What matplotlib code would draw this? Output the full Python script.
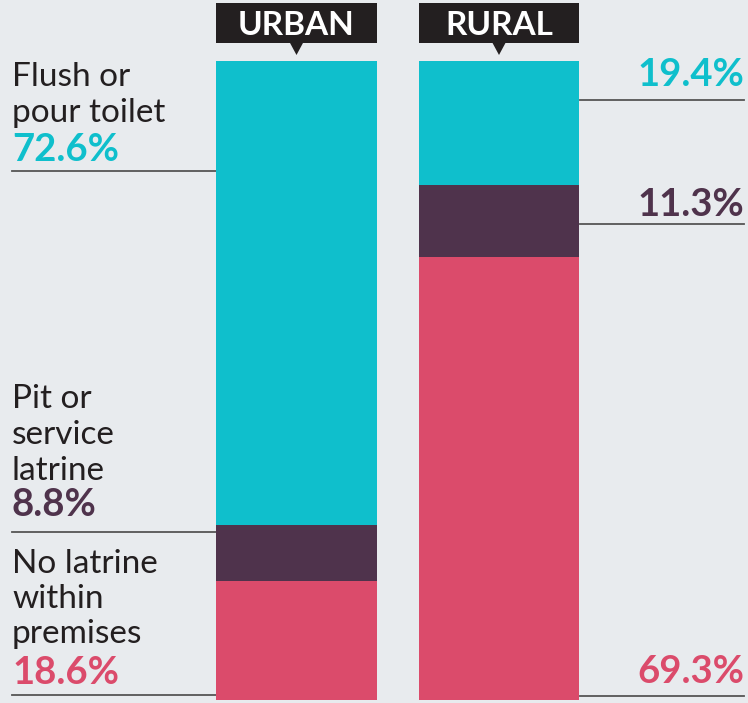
import matplotlib
matplotlib.use("Agg")
import matplotlib.pyplot as plt
from matplotlib.patches import Rectangle, Polygon

# sanitation shares (%), stacked bottom to top
areas = ["URBAN", "RURAL"]
no_latrine = [18.6, 69.3]
pit_latrine = [8.8, 11.3]
flush_toilet = [72.6, 19.4]

cyan = "#0fbfcc"
plum = "#4f334c"
rose = "#db4b6b"
ink = "#231f20"
bg = "#e8ebee"

plt.rcParams["font.family"] = ["Lato", "DejaVu Sans"]

W, H = 748, 703
fig = plt.figure(figsize=(W / 100, H / 100), dpi=100, facecolor=bg)

# overlay in pixel units for labels, rules and header tabs
ov = fig.add_axes([0, 0, 1, 1])
ov.set_xlim(0, W)
ov.set_ylim(H, 0)
ov.axis("off")
ov.set_facecolor(bg)

# bar axes: percent scale, bars at x = 0 and 1
bar_left, bar_right, bar_top, bar_bottom = 216, 580, 61, 700
ax = fig.add_axes([bar_left / W, (H - bar_bottom) / H,
                   (bar_right - bar_left) / W, (bar_bottom - bar_top) / H])
ax.patch.set_alpha(0)
ax.set_xlim(-0.3975, 1.4)
ax.set_ylim(0, 100)
ax.axis("off")

x = [0, 1]
w = 0.795
bottom2 = [a + b for a, b in zip(no_latrine, pit_latrine)]
ax.bar(x, no_latrine, width=w, color=rose, linewidth=0)
ax.bar(x, pit_latrine, width=w, bottom=no_latrine, color=plum, linewidth=0)
ax.bar(x, flush_toilet, width=w, bottom=bottom2, color=cyan, linewidth=0)

# header tabs with pointer
px_per_unit = 202.5
for xi, name in zip(x, areas):
    cx = 296.5 + xi * px_per_unit
    half = w * px_per_unit / 2
    ov.add_patch(Rectangle((cx - half, 3), 2 * half, 40, color=ink, lw=0))
    ov.add_patch(Polygon([(cx - 7, 42), (cx + 7, 42), (cx, 55)], color=ink, lw=0))
    ov.text(cx, 35, name, color="white", fontsize=24, fontweight="bold",
            ha="center", va="baseline")

reg = dict(fontsize=24, color=ink, ha="left", va="baseline")
big = dict(fontsize=27.5, fontweight="bold", va="baseline")

# left labels (urban)
for t, yb in [("Flush or", 86), ("pour toilet", 122)]:
    ov.text(12, yb, t, **reg)
ov.text(12, 161, f"{flush_toilet[0]}%", color=cyan, ha="left", **big)

for t, yb in [("Pit or", 408), ("service", 444), ("latrine", 480)]:
    ov.text(12, yb, t, **reg)
ov.text(12, 516, f"{pit_latrine[0]}%", color=plum, ha="left", **big)

for t, yb in [("No latrine", 573), ("within", 608), ("premises", 643)]:
    ov.text(12, yb, t, **reg)
ov.text(12, 684, f"{no_latrine[0]}%", color=rose, ha="left", **big)

for yl in [171, 532, 695]:
    ov.plot([12, bar_left], [yl, yl], color="#555555", lw=1.3)

# right labels (rural)
ov.text(744, 86, f"{flush_toilet[1]}%", color=cyan, ha="right", **big)
ov.text(744, 216, f"{pit_latrine[1]}%", color=plum, ha="right", **big)
ov.text(744, 683, f"{no_latrine[1]}%", color=rose, ha="right", **big)

for yl in [100, 224, 696]:
    ov.plot([bar_right, 744], [yl, yl], color="#555555", lw=1.3)

fig.savefig("out.png", dpi=100, facecolor=bg)
